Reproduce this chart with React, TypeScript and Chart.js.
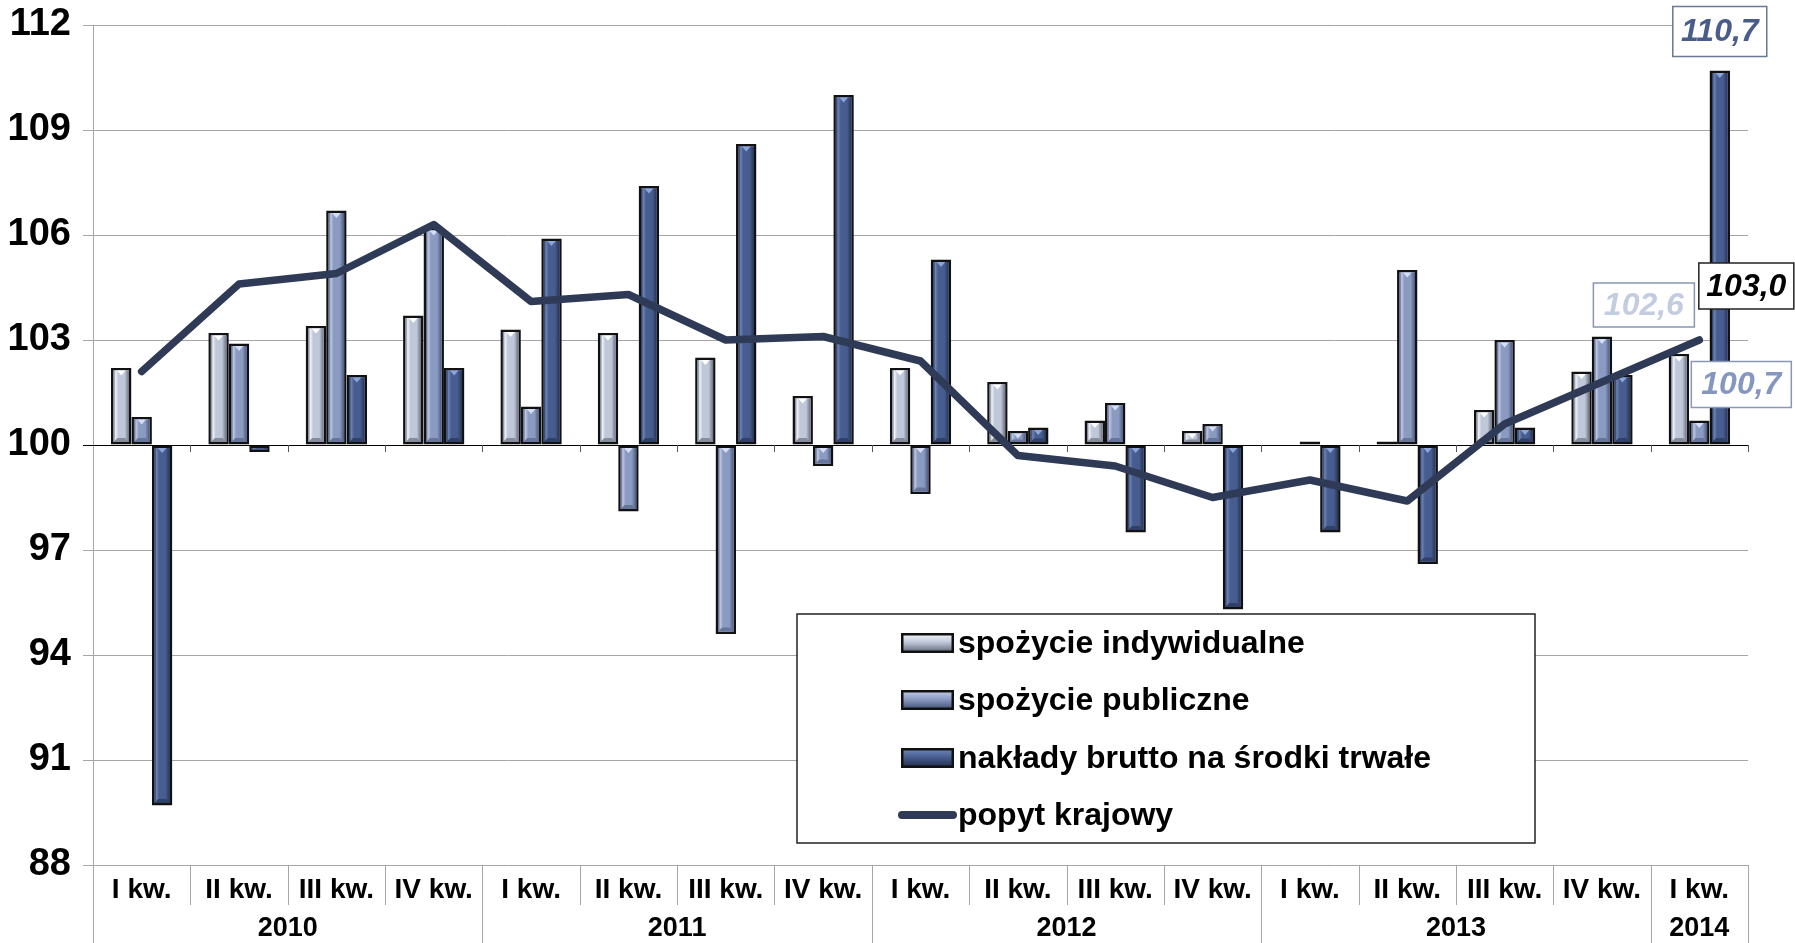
import React, { useEffect, useRef } from 'react';
import { Chart, registerables } from 'chart.js';

Chart.register(...registerables);

// ---------------- data ----------------
const categories = [
  'I kw.', 'II kw.', 'III kw.', 'IV kw.',
  'I kw.', 'II kw.', 'III kw.', 'IV kw.',
  'I kw.', 'II kw.', 'III kw.', 'IV kw.',
  'I kw.', 'II kw.', 'III kw.', 'IV kw.',
  'I kw.',
];
const years = ['2010', '2011', '2012', '2013', '2014'];
const yearSpans = [4, 4, 4, 4, 1];
const seriesNames = [
  'spożycie indywidualne',
  'spożycie publiczne',
  'nakłady brutto na środki trwałe',
  'popyt krajowy',
];
const spozycieIndywidualne = [102.2, 103.2, 103.4, 103.7, 103.3, 103.2, 102.5, 101.4, 102.2, 101.8, 100.7, 100.4, 100.0, 100.1, 101.0, 102.1, 102.6];
const spozyciePubliczne = [100.8, 102.9, 106.7, 106.2, 101.1, 98.1, 94.6, 99.4, 98.6, 100.4, 101.2, 100.6, 100.1, 105.0, 103.0, 103.1, 100.7];
const nakladyBrutto = [89.7, 99.8, 102.0, 102.2, 105.9, 107.4, 108.6, 110.0, 105.3, 100.5, 97.5, 95.3, 97.5, 96.6, 100.5, 102.0, 110.7];
const popytKrajowy = [102.1, 104.6, 104.9, 106.3, 104.1, 104.3, 103.0, 103.1, 102.4, 99.7, 99.4, 98.5, 99.0, 98.4, 100.6, 101.8, 103.0];
const yTicks = [88, 91, 94, 97, 100, 103, 106, 109, 112];
const baseValue = 100;

// ---------------- styles ----------------
const FONT = "'Liberation Sans', Arial, Helvetica, sans-serif";
const palettes = [
  { light: '#eef1f7', mid: '#bfc7d8', dark: '#6c7384', tri: '#ffffff', shade: '#858c9c' },
  { light: '#bcc7e2', mid: '#8a9ac1', dark: '#4c5a7e', tri: '#d6def5', shade: '#67759a' },
  { light: '#6a82b5', mid: '#475d90', dark: '#273455', tri: '#8ea4d8', shade: '#314066' },
];
const lineColor = '#2e3a56';

const fmt = (v: number) => v.toFixed(1).replace('.', ',');

function drawBevel(ctx: CanvasRenderingContext2D, left: number, top: number, right: number, bottom: number, p: any, bw: number) {
  const l = left + bw, r = right - bw, t = top + bw, b = bottom - bw;
  if (r - l < 1 || b - t < 1) return;
  const w = r - l, h = b - t;
  const g = ctx.createLinearGradient(l, 0, r, 0);
  g.addColorStop(0, p.dark);
  g.addColorStop(0.14, p.light);
  g.addColorStop(0.32, p.mid);
  g.addColorStop(0.72, p.mid);
  g.addColorStop(1, p.dark);
  ctx.fillStyle = g;
  ctx.fillRect(l, t, w, h);
  const sh = Math.min(4, h * 0.3);
  ctx.fillStyle = p.shade;
  ctx.beginPath();
  ctx.moveTo(l, b);
  ctx.lineTo(r, b);
  ctx.lineTo(r - sh, b - sh);
  ctx.lineTo(l + sh, b - sh);
  ctx.closePath();
  ctx.fill();
  const th = Math.min(w * 0.32, h * 0.6);
  if (th > 1.5) {
    ctx.fillStyle = p.tri;
    ctx.beginPath();
    ctx.moveTo(l + w * 0.22, t);
    ctx.lineTo(r - w * 0.22, t);
    ctx.lineTo(l + w / 2, t + th);
    ctx.closePath();
    ctx.fill();
  }
}

const bevelPlugin = {
  id: 'bevelBars',
  afterDatasetDraw(chart: any, args: any) {
    const meta = args.meta;
    if (meta.type !== 'bar') return;
    const p = palettes[args.index];
    if (!p) return;
    const ctx = chart.ctx;
    ctx.save();
    meta.data.forEach((el: any) => {
      const { x, y, base, width } = el.getProps(['x', 'y', 'base', 'width'], true);
      const top = Math.min(y, base), bottom = Math.max(y, base);
      drawBevel(ctx, x - width / 2, top, x + width / 2, bottom, p, 2.5);
    });
    ctx.restore();
  },
};

const axisPlugin = {
  id: 'axisDecor',
  beforeDatasetsDraw(chart: any) {
    const { ctx, chartArea, scales } = chart;
    const xs = scales.x, ys = scales.y;
    const y0 = ys.getPixelForValue(baseValue);
    ctx.save();
    ctx.strokeStyle = '#000';
    ctx.lineWidth = 1;
    ctx.beginPath();
    ctx.moveTo(chartArea.left - 10, Math.round(y0) + 0.5);
    ctx.lineTo(chartArea.right, Math.round(y0) + 0.5);
    ctx.stroke();
    ctx.strokeStyle = '#555';
    ctx.beginPath();
    for (let i = 1; i <= categories.length; i++) {
      const x = Math.round(xs.getPixelForValue(i - 0.5)) + 0.5;
      ctx.moveTo(x, y0);
      ctx.lineTo(x, y0 + 7);
    }
    ctx.stroke();
    ctx.restore();
  },
  afterDraw(chart: any) {
    const { ctx, chartArea, scales } = chart;
    const xs = scales.x;
    const H = chart.height;
    ctx.save();
    ctx.strokeStyle = '#a6a6a6';
    ctx.lineWidth = 1;
    const yearBounds = new Set<number>();
    let acc = 0;
    yearBounds.add(0);
    yearSpans.forEach((s) => { acc += s; yearBounds.add(acc); });
    ctx.beginPath();
    for (let i = 0; i <= categories.length; i++) {
      const x = Math.round(xs.getPixelForValue(i - 0.5)) + 0.5;
      ctx.moveTo(x, chartArea.bottom);
      ctx.lineTo(x, yearBounds.has(i) ? H : chartArea.bottom + 40);
    }
    ctx.stroke();
    ctx.fillStyle = '#000';
    ctx.font = `bold 27px ${FONT}`;
    ctx.textAlign = 'center';
    ctx.textBaseline = 'middle';
    let start = 0;
    years.forEach((yr, k) => {
      const mid = start + (yearSpans[k] - 1) / 2;
      ctx.fillText(yr, xs.getPixelForValue(mid), chartArea.bottom + 64);
      start += yearSpans[k];
    });
    ctx.restore();
  },
};

function valueBox(ctx: CanvasRenderingContext2D, cx: number, cy: number, w: number, h: number, text: string, color: string, border: string) {
  ctx.fillStyle = '#fff';
  ctx.fillRect(cx - w / 2, cy - h / 2, w, h);
  ctx.strokeStyle = border;
  ctx.lineWidth = 1.5;
  ctx.strokeRect(cx - w / 2, cy - h / 2, w, h);
  ctx.fillStyle = color;
  ctx.font = `italic bold 32px ${FONT}`;
  ctx.textAlign = 'center';
  ctx.textBaseline = 'middle';
  ctx.fillText(text, cx, cy + 1);
}

const labelsPlugin = {
  id: 'valueLabels',
  afterDraw(chart: any) {
    const ctx = chart.ctx;
    const last = categories.length - 1;
    const mInd = chart.getDatasetMeta(0).data[last];
    const mPub = chart.getDatasetMeta(1).data[last];
    const mNak = chart.getDatasetMeta(2).data[last];
    const mPop = chart.getDatasetMeta(3).data[last];
    ctx.save();
    valueBox(ctx, mNak.x, mNak.y - 39, 94, 50, fmt(nakladyBrutto[last]), '#4a5d8a', '#6a7898');
    valueBox(ctx, mPop.x + 47, mPop.y - 54, 95, 46, fmt(popytKrajowy[last]), '#000', '#222');
    valueBox(ctx, mInd.x - 35, mInd.y - 49, 101, 44, fmt(spozycieIndywidualne[last]), '#c4cce0', '#8a96b4');
    valueBox(ctx, mPub.x + 42, mPub.y - 36, 100, 46, fmt(spozyciePubliczne[last]), '#8597bf', '#8a96b4');
    ctx.restore();
  },
};

const legendPlugin = {
  id: 'boxLegend',
  afterDraw(chart: any) {
    const ctx = chart.ctx;
    const bx = 797, by = 614, bw = 738, bh = 229;
    ctx.save();
    ctx.fillStyle = '#fff';
    ctx.fillRect(bx, by, bw, bh);
    ctx.strokeStyle = '#222';
    ctx.lineWidth = 1.5;
    ctx.strokeRect(bx, by, bw, bh);
    const rows = [643, 700, 758, 815];
    [0, 1, 2, 3].forEach((di, k) => {
      const ds = chart.data.datasets[di];
      const cy = rows[k];
      if (ds.type === 'bar') {
        const p = palettes[di];
        const sx = 901, sw = 53, sh = 20;
        ctx.fillStyle = '#111';
        ctx.fillRect(sx, cy - sh / 2, sw, sh);
        const g = ctx.createLinearGradient(0, cy - sh / 2 + 2, 0, cy + sh / 2 - 2);
        g.addColorStop(0, p.light);
        g.addColorStop(0.45, p.mid);
        g.addColorStop(1, p.dark);
        ctx.fillStyle = g;
        ctx.fillRect(sx + 2.5, cy - sh / 2 + 2.5, sw - 5, sh - 5);
      } else {
        ctx.strokeStyle = lineColor;
        ctx.lineWidth = 8;
        ctx.lineCap = 'round';
        ctx.beginPath();
        ctx.moveTo(902, cy);
        ctx.lineTo(953, cy);
        ctx.stroke();
      }
      ctx.fillStyle = '#000';
      ctx.font = `bold 32px ${FONT}`;
      ctx.textAlign = 'left';
      ctx.textBaseline = 'middle';
      ctx.fillText(ds.label, 958, cy + 1);
    });
    ctx.restore();
  },
};

export default function App() {
  const ref = useRef<HTMLCanvasElement | null>(null);
  useEffect(() => {
    if (!ref.current) return;
    Chart.defaults.font.family = FONT;
    const barCommon = {
      type: 'bar' as const,
      borderColor: '#111',
      borderWidth: 2.5,
      borderSkipped: false,
      base: baseValue,
      order: 1,
      categoryPercentage: 0.63,
      barPercentage: 1.0,
    };
    const chart = new Chart(ref.current, {
      type: 'bar',
      data: {
        labels: categories,
        datasets: [
          { ...barCommon, label: seriesNames[0], data: spozycieIndywidualne, backgroundColor: palettes[0].mid },
          { ...barCommon, label: seriesNames[1], data: spozyciePubliczne, backgroundColor: palettes[1].mid },
          { ...barCommon, label: seriesNames[2], data: nakladyBrutto, backgroundColor: palettes[2].mid },
          {
            type: 'line', label: seriesNames[3], data: popytKrajowy, borderColor: lineColor,
            backgroundColor: lineColor, borderWidth: 7.5, pointRadius: 0, tension: 0, order: 0,
            borderCapStyle: 'round', borderJoinStyle: 'round',
          } as any,
        ] as any,
      },
      options: {
        responsive: false,
        animation: false,
        layout: { padding: { top: 25, right: 47, left: 0, bottom: 0 } },
        plugins: { legend: { display: false }, tooltip: { enabled: false } },
        scales: {
          x: {
            offset: true,
            grid: { display: false, drawTicks: false },
            border: { display: false },
            ticks: {
              autoSkip: false, maxRotation: 0, minRotation: 0, padding: 8, color: '#000',
              font: { family: FONT, size: 28, weight: 'bold' },
            },
            afterFit: (s: any) => { s.height = 78; s.paddingLeft = 0; s.paddingRight = 0; },
          },
          y: {
            min: 88,
            max: 112,
            afterBuildTicks: (s: any) => { s.ticks = yTicks.map((v) => ({ value: v })); },
            grid: { color: '#a6a6a6', lineWidth: 1, tickLength: 10 },
            border: { display: true, color: '#a6a6a6' },
            ticks: {
              padding: 12, color: '#000',
              font: { family: FONT, size: 38, weight: 'bold', lineHeight: 1 },
              callback: (v: any) => String(v),
            },
            afterFit: (s: any) => { s.width = 93; s.paddingTop = 0; s.paddingBottom = 0; },
          },
        },
      } as any,
      plugins: [axisPlugin, bevelPlugin, labelsPlugin, legendPlugin],
    });
    return () => chart.destroy();
  }, []);
  return (
    <div style={{ position: 'absolute', left: 0, top: 0, width: 1795, height: 943, background: '#fff' }}>
      <canvas ref={ref} width={1795} height={943} style={{ display: 'block' }} />
    </div>
  );
}
